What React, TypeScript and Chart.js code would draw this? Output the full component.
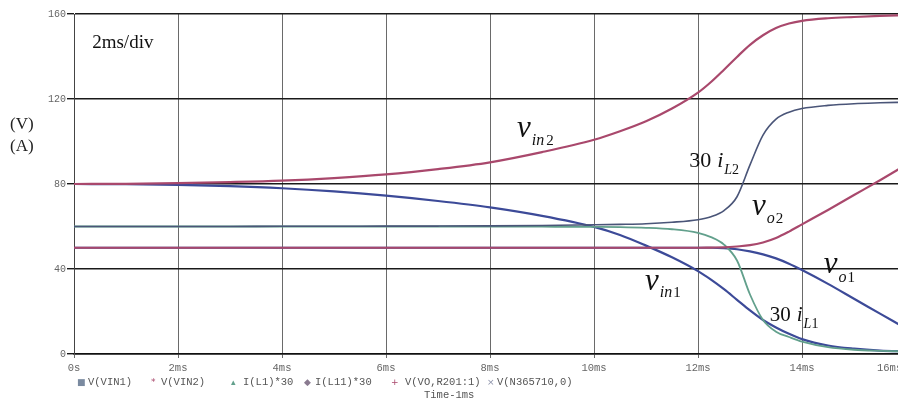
import { useEffect, useRef } from "react";
import { Chart, registerables } from "chart.js";

Chart.register(...registerables);

// Simulation time base (ms)
const timeMs = [0, 1, 2, 3, 4, 5, 6, 7, 8, 9, 10, 10.5, 11, 11.5, 12, 12.25, 12.5, 12.75, 13, 13.25, 13.5, 13.75, 14, 14.5, 15, 15.5, 16];

// Traces (V or A scaled)
const vIn2 = [80, 80.1, 80.4, 80.9, 81.6, 82.8, 84.5, 87, 90.2, 95, 100.8, 104.8, 109.5, 115.5, 123, 128, 133.8, 139.8, 145.5, 150, 153.4, 155.5, 156.8, 158, 158.6, 159.1, 159.5];
const vO2 = [50, 50, 50, 50, 50, 50, 50, 50, 50, 50, 50, 50, 50, 50, 50, 50.1, 50.2, 50.6, 51.2, 52.5, 54.6, 57.6, 61, 67.8, 74.8, 81.8, 89];
const iL2x30 = [60, 60, 60, 60, 60.1, 60.1, 60.2, 60.2, 60.3, 60.5, 60.8, 61, 61.3, 62, 63.2, 64.6, 67.5, 74, 89, 103, 110.5, 113.8, 115.5, 117, 117.8, 118.2, 118.5];
const iL1x30 = [60, 60, 60, 60, 60, 60, 60, 60, 60, 59.9, 59.8, 59.7, 59.4, 58.7, 57, 55, 51.5, 44, 28, 16, 10.5, 8, 5.8, 3.2, 2, 1.5, 1.2];
const vIn1 = [80, 79.9, 79.6, 79, 78, 76.5, 74.5, 72, 69, 65, 59.8, 56, 51, 45.5, 39, 35, 30.5, 25.5, 20.5, 16, 12.5, 9.5, 7, 4, 2.5, 1.6, 1.2];
const vO1 = [50, 50, 50, 50, 50, 50, 50, 50, 50, 50, 50, 50, 50, 50, 50, 50, 49.8, 49.3, 48.3, 46.9, 45, 42.5, 39.5, 33, 26, 19, 12];

const xTicks = [0, 2, 4, 6, 8, 10, 12, 14, 16];
const xTickLabels = ["0s", "2ms", "4ms", "6ms", "8ms", "10ms", "12ms", "14ms", "16ms"];
const yTicks = [0, 40, 80, 120, 160];

const RED = "#a9486c";
const BLUE = "#3c4a98";
const GREEN = "#62a08c";
const SLATE = "#4a5578";

const legendItems = [
  { mark: "■", color: "#7a8aa0", label: "V(VIN1)", mx: 77, tx: 88 },
  { mark: "*", color: RED, label: "V(VIN2)", mx: 151, tx: 161 },
  { mark: "▴", color: GREEN, label: "I(L1)*30", mx: 231, tx: 243 },
  { mark: "◆", color: "#8a7a90", label: "I(L11)*30", mx: 304, tx: 315 },
  { mark: "+", color: RED, label: "V(VO,R201:1)", mx: 391, tx: 405 },
  { mark: "×", color: "#8a90a8", label: "V(N365710,0)", mx: 487, tx: 497 },
];

type Run = { text: string; font: string; dy?: number; gap?: number };

const SERIF = '"Liberation Serif", "DejaVu Serif", serif';
const MONO = '"Liberation Mono", "DejaVu Sans Mono", monospace';
const big = (s: number) => `italic ${s}px ${SERIF}`;
const up = (s: number) => `${s}px ${SERIF}`;

// Curve labels anchored in data space (time ms, value)
const curveLabels: { t: number; v: number; runs: Run[] }[] = [
  { t: 8.52, v: 102.1, runs: [{ text: "v", font: big(31) }, { text: "in", font: big(16), dy: 8, gap: 1 }, { text: "2", font: up(15), dy: 8, gap: 2 }] },
  { t: 11.83, v: 88.0, runs: [{ text: "30", font: up(22) }, { text: "i", font: big(22), gap: 6 }, { text: "L", font: big(14), dy: 7, gap: 1 }, { text: "2", font: up(14), dy: 7 }] },
  { t: 13.04, v: 65.4, runs: [{ text: "v", font: big(31) }, { text: "o", font: big(16), dy: 8, gap: 1 }, { text: "2", font: up(15), dy: 8, gap: 1 }] },
  { t: 14.42, v: 38.1, runs: [{ text: "v", font: big(31) }, { text: "o", font: big(16), dy: 9, gap: 1 }, { text: "1", font: up(15), dy: 9, gap: 1 }] },
  { t: 10.98, v: 30.1, runs: [{ text: "v", font: big(31) }, { text: "in", font: big(16), dy: 7, gap: 1 }, { text: "1", font: up(15), dy: 7, gap: 1 }] },
  { t: 13.38, v: 15.5, runs: [{ text: "30", font: up(21) }, { text: "i", font: big(21), gap: 6 }, { text: "L", font: big(14), dy: 7, gap: 1 }, { text: "1", font: up(14), dy: 7 }] },
  { t: 0.35, v: 144, runs: [{ text: "2ms/div", font: up(19) }] },
];

function drawRuns(ctx: CanvasRenderingContext2D, x: number, y: number, runs: Run[], color: string) {
  let cx = x;
  ctx.fillStyle = color;
  ctx.textBaseline = "alphabetic";
  ctx.textAlign = "left";
  for (const r of runs) {
    cx += r.gap ?? 0;
    ctx.font = r.font;
    ctx.fillText(r.text, cx, y + (r.dy ?? 0));
    cx += ctx.measureText(r.text).width;
  }
}

const textPlugin = {
  id: "circuitText",
  afterDraw(chart: any) {
    const { ctx, scales } = chart;
    ctx.save();
    for (const l of curveLabels) {
      drawRuns(ctx, scales.x.getPixelForValue(l.t), scales.y.getPixelForValue(l.v), l.runs, "#111");
    }
    // unit labels beside the vertical axis
    drawRuns(ctx, 10, 129, [{ text: "(V)", font: up(17) }], "#222");
    drawRuns(ctx, 10, 151, [{ text: "(A)", font: up(17) }], "#222");
    // last time label sits pulled in from the window edge
    ctx.font = `10.5px ${MONO}`;
    ctx.fillStyle = "#666";
    ctx.textBaseline = "middle";
    ctx.fillText(xTickLabels[xTickLabels.length - 1], 877, 368);
    ctx.textBaseline = "alphabetic";
    // trace legend
    for (const it of legendItems) {
      ctx.font = '9px "DejaVu Sans"';
      ctx.fillStyle = it.color;
      ctx.fillText(it.mark, it.mx, 385);
      ctx.font = `10.5px ${MONO}`;
      ctx.fillStyle = "#555";
      ctx.fillText(it.label, it.tx, 385);
    }
    ctx.font = `10.5px ${MONO}`;
    ctx.fillStyle = "#555";
    ctx.fillText("Time-1ms", 424, 398);
    ctx.restore();
  },
};

export default function App() {
  const ref = useRef<HTMLCanvasElement | null>(null);

  useEffect(() => {
    if (!ref.current) return;
    const series = [
      { data: vIn2, color: RED, width: 2.2 },
      { data: vO2, color: RED, width: 2.2 },
      { data: iL2x30, color: SLATE, width: 1.6 },
      { data: iL1x30, color: GREEN, width: 1.8 },
      { data: vIn1, color: BLUE, width: 2.2 },
      { data: vO1, color: BLUE, width: 2.2 },
    ];
    const chart = new Chart(ref.current, {
      type: "line",
      data: {
        datasets: series.map((s) => ({
          data: timeMs.map((t, i) => ({ x: t, y: s.data[i] })),
          borderColor: s.color,
          borderWidth: s.width,
          pointRadius: 0,
          fill: false,
          cubicInterpolationMode: "monotone" as const,
        })),
      },
      options: {
        animation: false,
        responsive: false,
        devicePixelRatio: 1,
        layout: { padding: { left: 0, right: 14, top: 14, bottom: 0 } },
        plugins: { legend: { display: false }, tooltip: { enabled: false } },
        scales: {
          x: {
            type: "linear",
            min: 0,
            max: 16,
            afterFit: (s: any) => { s.height = 48; },
            afterBuildTicks: (s: any) => { s.ticks = xTicks.map((v) => ({ value: v })); },
            grid: { color: "#6a6a6a", lineWidth: 1, tickLength: 4 },
            border: { color: "#111", width: 1.5 },
            ticks: {
              autoSkip: false,
              maxRotation: 0,
              padding: 4,
              color: "#666",
              font: { family: MONO, size: 10.5 },
              callback: (v: any) => {
                const i = xTicks.indexOf(Number(v));
                return i >= 0 && i < xTicks.length - 1 ? xTickLabels[i] : "";
              },
            },
          },
          y: {
            type: "linear",
            min: 0,
            max: 160,
            afterFit: (s: any) => { s.width = 74; },
            afterBuildTicks: (s: any) => { s.ticks = yTicks.map((v) => ({ value: v })); },
            grid: { color: "#1a1a1a", lineWidth: 1.4, tickLength: 7 },
            border: { color: "#444", width: 1 },
            ticks: {
              padding: 1,
              color: "#666",
              font: { family: MONO, size: 10 },
            },
          },
        },
      },
      plugins: [textPlugin],
    });
    return () => chart.destroy();
  }, []);

  return (
    <div style={{ position: "fixed", left: 0, top: 0, width: 898, height: 402, overflow: "hidden", background: "#fff" }}>
      <canvas ref={ref} width={920} height={402} style={{ display: "block" }} />
    </div>
  );
}
